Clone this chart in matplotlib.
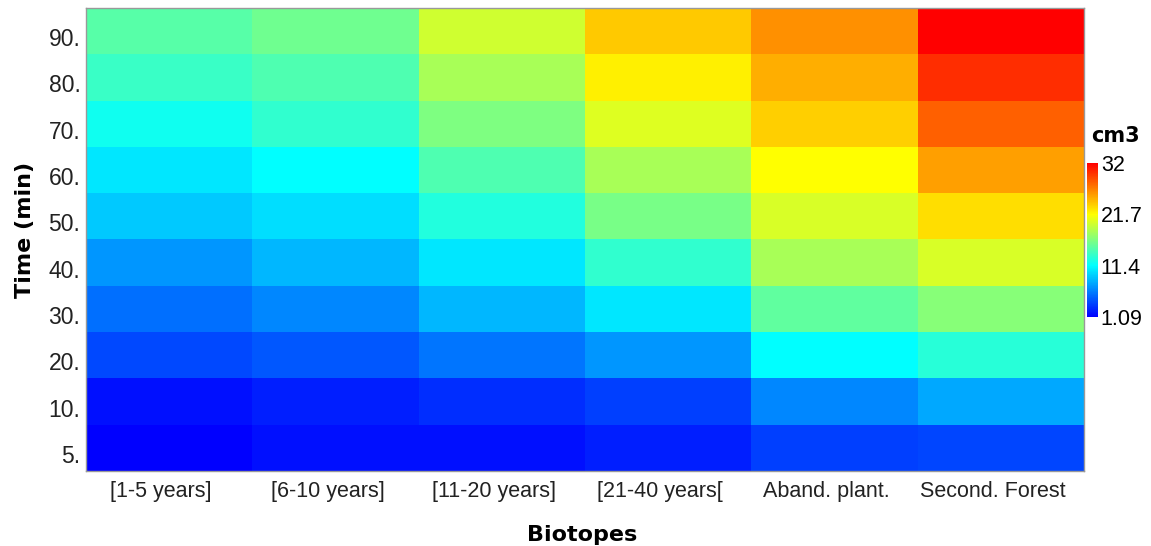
import numpy as np
import matplotlib
matplotlib.use("Agg")
import matplotlib.pyplot as plt
import matplotlib.transforms as mtransforms
from matplotlib.colors import LinearSegmentedColormap

plt.rcParams['font.family'] = ['Liberation Sans', 'DejaVu Sans']

biotopes = ["[1-5 years]", "[6-10 years]", "[11-20 years]", "[21-40 years[",
            "Aband. plant.", "Second. Forest"]
times = ["5.", "10.", "20.", "30.", "40.", "50.", "60.", "70.", "80.", "90."]

# values per biotope, from time 5 (bottom) to 90 (top)
v_1_5 = [1.09, 1.74, 4.0, 5.6, 7.2, 9.2, 10.5, 12.0, 13.7, 14.95]
v_6_10 = [1.74, 2.4, 4.65, 6.6, 8.5, 10.1, 11.4, 13.3, 14.6, 15.9]
v_11_20 = [1.8, 3.0, 5.9, 8.5, 10.5, 12.7, 14.6, 16.5, 18.2, 19.8]
v_21_40 = [2.4, 3.7, 7.2, 10.5, 13.3, 16.2, 18.2, 20.4, 22.3, 23.9]
v_aband = [3.7, 6.6, 11.4, 15.3, 18.2, 20.1, 21.7, 23.6, 24.9, 26.2]
v_second = [3.9, 7.9, 13.0, 16.9, 20.1, 22.95, 25.5, 28.1, 30.1, 32.0]

cbar_ticks = [1.09, 11.4, 21.7, 32]
cbar_labels = ["1.09", "11.4", "21.7", "32"]

data = np.array([v_1_5, v_6_10, v_11_20, v_21_40, v_aband, v_second]).T

cmap = LinearSegmentedColormap.from_list(
    "bcyr", [(0, "#0000ff"), (1/3, "#00ffff"), (2/3, "#ffff00"), (1, "#ff0000")])

fig = plt.figure(figsize=(11.51, 5.46), dpi=100)
ax = fig.add_axes([86/1151, 75/546, 998/1151, 463/546])
mesh = ax.pcolormesh(np.arange(len(biotopes) + 1), np.arange(len(times) + 1), data,
                     cmap=cmap, vmin=1.09, vmax=32, shading='flat', edgecolors='none')
ax.set_xticks(np.arange(len(biotopes)) + 0.5)
ax.set_xticklabels(biotopes, fontsize=15.5, color="#222222")
ax.set_yticks(np.arange(len(times)) + 0.5)
ax.set_yticklabels(times, fontsize=16.5, color="#222222")
ax.tick_params(length=0)
ax.tick_params(axis='x', pad=7)
ax.tick_params(axis='y', pad=4)

dx = mtransforms.ScaledTranslation(-8/100, 0, fig.dpi_scale_trans)
for lab in ax.get_xticklabels():
    lab.set_transform(lab.get_transform() + dx)
dy = mtransforms.ScaledTranslation(0, -6/100, fig.dpi_scale_trans)
for lab in ax.get_yticklabels():
    lab.set_transform(lab.get_transform() + dy)

for s in ax.spines.values():
    s.set_color("#999999")
    s.set_linewidth(1)
ax.set_xlabel("Biotopes", fontsize=16, fontweight='bold', family='DejaVu Sans')
ax.set_ylabel("Time (min)", fontsize=16, fontweight='bold', family='DejaVu Sans')
ax.xaxis.set_label_coords(0.497, -0.116)
ax.yaxis.set_label_coords(-0.051, 0.52)

cax = fig.add_axes([1087/1151, 229/546, 11/1151, 154/546])
cb = fig.colorbar(mesh, cax=cax)
cb.set_ticks(cbar_ticks)
cb.set_ticklabels(cbar_labels)
cb.outline.set_visible(False)
cax.tick_params(length=0, labelsize=15.5, pad=2)
cax.text(1091/1151, 1 - 136/546, "cm3", transform=fig.transFigure, fontsize=15,
         fontweight='bold', family='DejaVu Sans', ha='left', va='center')

fig.savefig("out.png", dpi=100)
